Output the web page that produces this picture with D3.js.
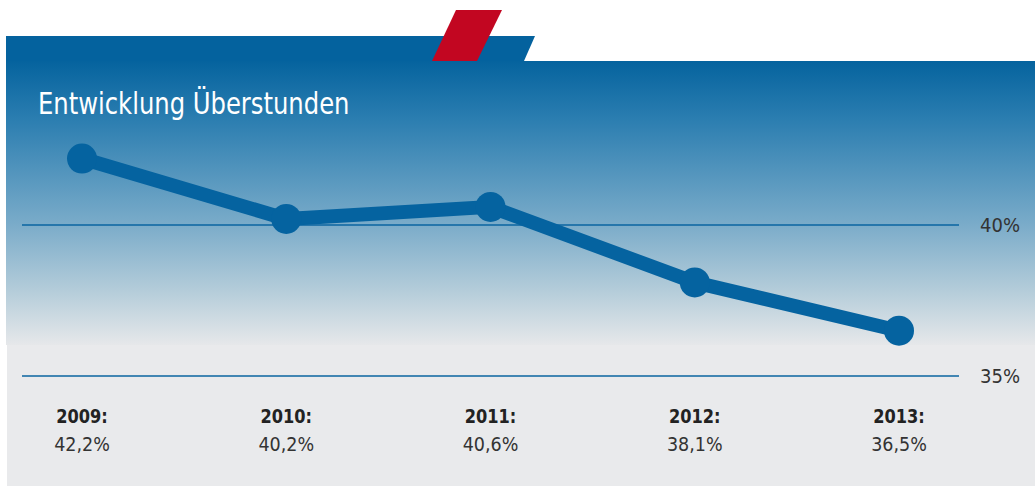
<!DOCTYPE html>
<html><head><meta charset="utf-8">
<script src="https://cdn.jsdelivr.net/npm/d3@7"></script>
<style>
html,body{margin:0;padding:0;background:#fff;}
svg{display:block;}
text{font-family:"DejaVu Sans Condensed","DejaVu Sans",sans-serif;}
</style></head>
<body>
<svg id="chart" width="1035" height="486"></svg>
<script>
const years = ["2009", "2010", "2011", "2012", "2013"];
const values = [42.2, 40.2, 40.6, 38.1, 36.5];
const valueLabels = ["42,2%", "40,2%", "40,6%", "38,1%", "36,5%"];
const gridTicks = [35, 40];
const tickLabels = ["35%", "40%"];
const title = "Entwicklung Überstunden";

const W = 1035, H = 486;
const svg = d3.select("#chart");
const defs = svg.append("defs");
const grad = defs.append("linearGradient").attr("id","bg").attr("x1",0).attr("y1",0).attr("x2",0).attr("y2",1);
[[0,"#05639e"],[0.2,"#2a7db0"],[0.57,"#79abc9"],[0.8,"#b2cbd9"],[1,"#e6e8ea"]].forEach(([o,c])=>grad.append("stop").attr("offset",o).attr("stop-color",c));

// grey lower area
svg.append("rect").attr("x",7).attr("y",345).attr("width",W-7).attr("height",H-345).attr("fill","#e9eaec");
// gradient area
svg.append("rect").attr("x",6).attr("y",61).attr("width",W-6).attr("height",345-61).attr("fill","url(#bg)");
// header band
svg.append("path").attr("d","M6,36 L535,36 L524,61 L6,61 Z").attr("fill","#04629e");
// red parallelogram
svg.append("path").attr("d","M456,10 L502,10 L477,61 L432,61 Z").attr("fill","#c20621");

svg.append("text").attr("transform","translate(38,114) scale(0.87,1)").attr("fill","#fff")
  .attr("font-size",31).text(title);

const x = d3.scalePoint().domain(years).range([82,899]);
const y = d3.scaleLinear().domain([35,40]).range([376,225]);

// grid lines
const g = svg.append("g");
g.selectAll("line.grid").data(gridTicks).join("line").attr("class","grid")
  .attr("x1",22).attr("x2",959).attr("y1",d=>y(d)).attr("y2",d=>y(d))
  .attr("stroke","#0a64a0").attr("stroke-width",1.5);
g.selectAll("text.tick").data(gridTicks).join("text").attr("class","tick")
  .attr("x",980).attr("y",d=>y(d)+6.5).attr("fill","#333").attr("font-size",20)
  .text((d,i)=>tickLabels[i]);

const data = years.map((yr,i)=>({yr, v:values[i], lab:valueLabels[i]}));
const line = d3.line().x(d=>x(d.yr)).y(d=>y(d.v));
svg.append("path").datum(data).attr("d",line).attr("fill","none")
  .attr("stroke","#0563a0").attr("stroke-width",14).attr("stroke-linejoin","round");
svg.selectAll("circle.pt").data(data).join("circle").attr("class","pt")
  .attr("cx",d=>x(d.yr)).attr("cy",d=>y(d.v)).attr("r",15).attr("fill","#0563a0");

svg.selectAll("text.yr").data(data).join("text").attr("class","yr")
  .attr("transform",d=>`translate(${x(d.yr)},423) scale(0.9,1)`).attr("text-anchor","middle")
  .attr("font-size",20).attr("font-weight","bold").attr("fill","#222")
  .text(d=>d.yr+":");
svg.selectAll("text.val").data(data).join("text").attr("class","val")
  .attr("x",d=>x(d.yr)).attr("y",451).attr("text-anchor","middle")
  .attr("font-size",19.5).attr("fill","#333")
  .text(d=>d.lab);
</script>
</body></html>
